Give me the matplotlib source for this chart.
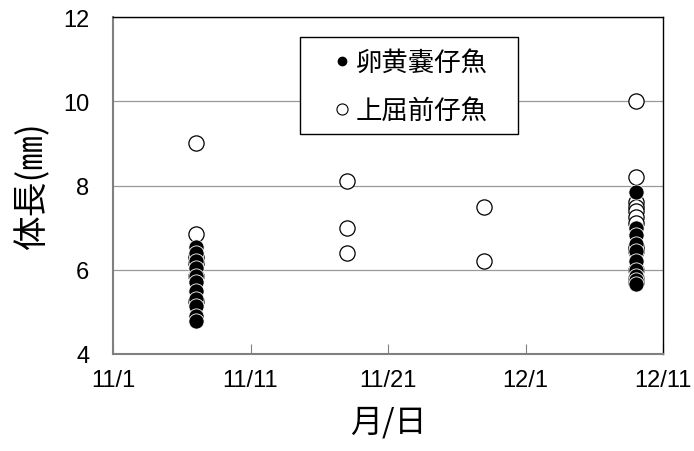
import matplotlib
matplotlib.use('Agg')
import matplotlib.pyplot as plt
from matplotlib.lines import Line2D
from matplotlib.patches import Rectangle

plt.rcParams['font.family'] = ['Liberation Sans', 'Noto Sans CJK JP', 'DejaVu Sans']

# days counted from 11/1
tick_days = [0, 10, 20, 30, 40]
tick_labels = ['11/1', '11/11', '11/21', '12/1', '12/11']

# yolk-sac larvae (filled)
yolk_day = [6] * 11 + [38] * 10
yolk_len = [6.55, 6.4, 6.2, 6.05, 5.85, 5.7, 5.5, 5.3, 5.15, 4.9, 4.78,
            7.85, 7.0, 6.82, 6.6, 6.45, 6.2, 6.0, 5.85, 5.75, 5.65]

# preflexion larvae (open)
pre_day = [6] * 6 + [17] * 3 + [27] * 2 + [38] * 12
pre_len = [9.0, 6.85, 6.3, 6.15, 5.85, 5.25,
           8.1, 7.0, 6.4,
           7.5, 6.2,
           10.0, 8.2, 7.6, 7.5, 7.4, 7.25, 7.1, 6.55, 6.45, 6.0, 5.8, 5.7]

fig = plt.figure(figsize=(6.94, 4.52), dpi=100)
ax = fig.add_axes([113 / 694, 97 / 452, 550 / 694, 337 / 452])

ax.scatter(pre_day, pre_len, s=120, facecolor='white', edgecolor='black',
           linewidth=0.9, zorder=3)
ax.scatter(yolk_day, yolk_len, s=120, facecolor='black', edgecolor='white',
           linewidth=0.6, zorder=4)

ax.set_xlim(0, 40)
ax.set_ylim(4, 12)
ax.set_xticks(tick_days)
ax.set_xticklabels(tick_labels)
ax.set_yticks([4, 6, 8, 10, 12])
ax.tick_params(axis='x', direction='in', length=7, width=0.8, color='#808080',
               labelsize=17, pad=11)
ax.tick_params(axis='y', length=0, labelsize=17, pad=17)
ax.yaxis.grid(True, color='#999999', linewidth=0.9)
ax.set_axisbelow(True)

for side in ['left', 'bottom']:
    ax.spines[side].set_color('#808080')
    ax.spines[side].set_linewidth(1.5)
for side in ['top', 'right']:
    ax.spines[side].set_color('black')
    ax.spines[side].set_linewidth(1.0)

ax.set_xlabel('月/日', fontsize=23, family=['Noto Sans CJK JP'], labelpad=10)
ax.set_ylabel('体長(㎜)', fontsize=25, family=['Noto Sans CJK JP'], labelpad=9)

# legend box
ax.add_patch(Rectangle((0.34, 0.653), 0.396, 0.287, transform=ax.transAxes,
                       facecolor='white', edgecolor='black', linewidth=1.0,
                       zorder=5))
handles = [
    Line2D([], [], linestyle='none', marker='o', markersize=6,
           markerfacecolor='black', markeredgecolor='black'),
    Line2D([], [], linestyle='none', marker='o', markersize=8,
           markerfacecolor='white', markeredgecolor='black', markeredgewidth=0.8),
]
leg = ax.legend(handles, ['卵黄嚢仔魚', '上屈前仔魚'], loc='upper left',
                bbox_to_anchor=(0.405, 0.905), frameon=False,
                prop={'family': 'Noto Sans CJK JP', 'size': 19},
                handlelength=0.5, handletextpad=0.25, labelspacing=0.8,
                borderpad=0, borderaxespad=0)
leg.set_zorder(6)

fig.savefig('out.png', dpi=100)
